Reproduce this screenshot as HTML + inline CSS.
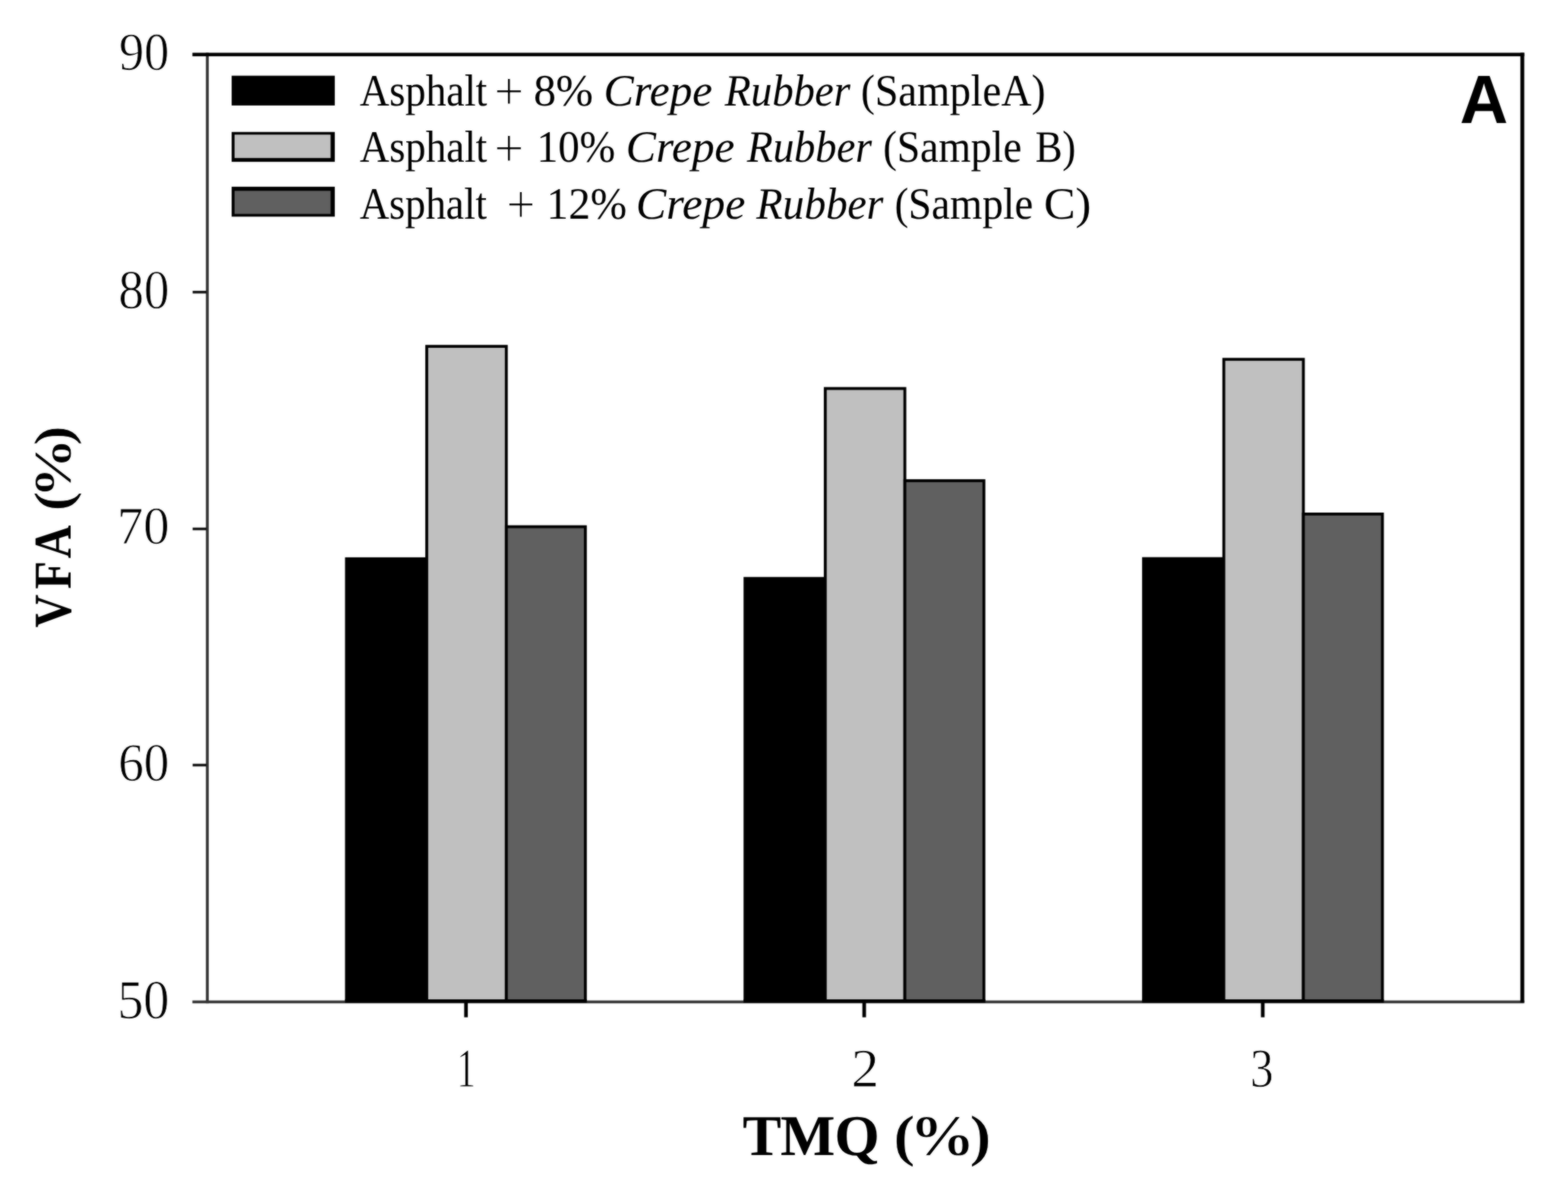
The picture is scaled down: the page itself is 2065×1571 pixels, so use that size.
<!DOCTYPE html>
<html lang="en">
<head>
<meta charset="utf-8">
<title>VFA (%) vs TMQ (%)</title>
<style>
html,body{margin:0;padding:0;background:#fff;}
body{width:2065px;height:1571px;overflow:hidden;}
svg{display:block;}
text{text-rendering:geometricPrecision;}
</style>
</head>
<body>
<svg width="2065" height="1571" viewBox="0 0 2065 1571" role="img" aria-label="Bar chart of VFA (%) against TMQ (%) for three crepe rubber samples">
<defs><filter id="soft" x="0" y="0" width="2065" height="1571" filterUnits="userSpaceOnUse" color-interpolation-filters="sRGB"><feGaussianBlur in="SourceGraphic" stdDeviation="0.9" result="b"/><feComposite in="b" in2="SourceGraphic" operator="arithmetic" k1="0" k2="0.55" k3="0.45" k4="0"/></filter></defs>
<g filter="url(#soft)">
<rect x="0" y="0" width="2065" height="1571" fill="#ffffff"/>
<rect x="456.30" y="735.80" width="105.70" height="582.70" fill="#000000" stroke="#000" stroke-width="3.8"/>
<rect x="562.00" y="456.10" width="104.80" height="862.40" fill="#c0c0c0" stroke="#000" stroke-width="3.8"/>
<rect x="666.80" y="693.60" width="104.10" height="624.90" fill="#606060" stroke="#000" stroke-width="3.8"/>
<rect x="981.15" y="761.70" width="105.70" height="556.80" fill="#000000" stroke="#000" stroke-width="3.8"/>
<rect x="1086.85" y="511.60" width="104.80" height="806.90" fill="#c0c0c0" stroke="#000" stroke-width="3.8"/>
<rect x="1191.65" y="633.00" width="104.10" height="685.50" fill="#606060" stroke="#000" stroke-width="3.8"/>
<rect x="1506.00" y="735.60" width="105.70" height="582.90" fill="#000000" stroke="#000" stroke-width="3.8"/>
<rect x="1611.70" y="473.20" width="104.80" height="845.30" fill="#c0c0c0" stroke="#000" stroke-width="3.8"/>
<rect x="1716.50" y="676.90" width="104.10" height="641.60" fill="#606060" stroke="#000" stroke-width="3.8"/>
<rect x="253.40" y="1317.50" width="1754.00" height="3.70" fill="#343434"/>
<rect x="271.20" y="69.50" width="3.70" height="1251.70" fill="#343434"/>
<rect x="253.40" y="69.50" width="1754.00" height="4.60" fill="#000"/>
<rect x="2002.30" y="69.50" width="5.10" height="1250.70" fill="#000"/>
<rect x="454.40" y="1316.00" width="318.40" height="4.40" fill="#000"/>
<rect x="979.25" y="1316.00" width="318.40" height="4.40" fill="#000"/>
<rect x="1504.10" y="1316.00" width="318.40" height="4.40" fill="#000"/>
<rect x="253.70" y="382.95" width="18.50" height="3.50" fill="#141414"/>
<rect x="253.70" y="694.75" width="18.50" height="3.50" fill="#141414"/>
<rect x="253.70" y="1005.75" width="18.50" height="3.50" fill="#141414"/>
<rect x="611.30" y="1318.50" width="4.80" height="21.10" fill="#000"/>
<rect x="1135.70" y="1318.50" width="4.80" height="21.10" fill="#000"/>
<rect x="1660.60" y="1318.50" width="4.80" height="21.10" fill="#000"/>
<rect x="305.10" y="99.70" width="135.80" height="39.20" fill="#000"/>
<rect x="305.10" y="173.80" width="135.80" height="39.30" fill="#000"/>
<rect x="308.90" y="177.30" width="126.50" height="30.80" fill="#c0c0c0"/>
<rect x="305.10" y="245.90" width="135.80" height="39.40" fill="#000"/>
<rect x="308.90" y="251.30" width="126.50" height="30.40" fill="#606060"/>
<text transform="matrix(0.66129 0 0 0.70519 156.77 92.24)" font-family="'Liberation Serif', serif" font-size="100" fill="#000" stroke="#fff" stroke-width="1.3" vector-effect="non-scaling-stroke" stroke-linejoin="round" xml:space="preserve">90</text>
<text transform="matrix(0.66848 0 0 0.73037 156.08 406.12)" font-family="'Liberation Serif', serif" font-size="100" fill="#000" stroke="#fff" stroke-width="1.3" vector-effect="non-scaling-stroke" stroke-linejoin="round" xml:space="preserve">80</text>
<text transform="matrix(0.68715 0 0 0.70222 154.28 716.25)" font-family="'Liberation Serif', serif" font-size="100" fill="#000" stroke="#fff" stroke-width="1.3" vector-effect="non-scaling-stroke" stroke-linejoin="round" xml:space="preserve">70</text>
<text transform="matrix(0.67213 0 0 0.71111 155.73 1028.44)" font-family="'Liberation Serif', serif" font-size="100" fill="#000" stroke="#fff" stroke-width="1.3" vector-effect="non-scaling-stroke" stroke-linejoin="round" xml:space="preserve">60</text>
<text transform="matrix(0.68333 0 0 0.72741 154.65 1340.52)" font-family="'Liberation Serif', serif" font-size="100" fill="#000" stroke="#fff" stroke-width="1.3" vector-effect="non-scaling-stroke" stroke-linejoin="round" xml:space="preserve">50</text>
<text transform="matrix(0.50000 0 0 0.72672 601.45 1430.55)" font-family="'Liberation Serif', serif" font-size="100" fill="#000" stroke="#fff" stroke-width="1.3" vector-effect="non-scaling-stroke" stroke-linejoin="round" xml:space="preserve">1</text>
<text transform="matrix(0.73500 0 0 0.72121 1121.04 1430.55)" font-family="'Liberation Serif', serif" font-size="100" fill="#000" stroke="#fff" stroke-width="1.3" vector-effect="non-scaling-stroke" stroke-linejoin="round" xml:space="preserve">2</text>
<text transform="matrix(0.61220 0 0 0.72388 1646.49 1430.73)" font-family="'Liberation Serif', serif" font-size="100" fill="#000" stroke="#fff" stroke-width="1.3" vector-effect="non-scaling-stroke" stroke-linejoin="round" xml:space="preserve">3</text>
<g class="legend1"><text transform="matrix(0.53958 0 0 0.59000 473.76 138.60)" font-family="'Liberation Serif', serif" font-size="100" fill="#000" xml:space="preserve">Asphalt </text><text transform="matrix(0.69247 0 0 0.71739 650.84 144.47)" font-family="'Liberation Serif', serif" font-size="100" fill="#000" stroke="#fff" stroke-width="1.4" vector-effect="non-scaling-stroke" stroke-linejoin="round" xml:space="preserve">+ </text><text transform="matrix(0.58968 0 0 0.59000 702.64 138.60)" font-family="'Liberation Serif', serif" font-size="100" fill="#000" xml:space="preserve">8% </text><text transform="matrix(0.59442 0 0 0.59000 795.03 138.60)" font-family="'Liberation Serif', serif" font-size="100" font-style="italic" fill="#000" xml:space="preserve">Crepe </text><text transform="matrix(0.56203 0 0 0.59000 954.48 138.60)" font-family="'Liberation Serif', serif" font-size="100" font-style="italic" fill="#000" xml:space="preserve">Rubber </text><text transform="matrix(0.55442 0 0 0.59000 1133.81 138.60)" font-family="'Liberation Serif', serif" font-size="100" fill="#000" xml:space="preserve">(SampleA)</text></g>
<g class="legend2"><text transform="matrix(0.53958 0 0 0.59000 473.76 213.20)" font-family="'Liberation Serif', serif" font-size="100" fill="#000" xml:space="preserve">Asphalt </text><text transform="matrix(0.69247 0 0 0.71739 650.84 219.07)" font-family="'Liberation Serif', serif" font-size="100" fill="#000" stroke="#fff" stroke-width="1.4" vector-effect="non-scaling-stroke" stroke-linejoin="round" xml:space="preserve">+ </text><text transform="matrix(0.56550 0 0 0.59000 706.71 213.20)" font-family="'Liberation Serif', serif" font-size="100" fill="#000" xml:space="preserve">10% </text><text transform="matrix(0.59442 0 0 0.59000 824.23 213.20)" font-family="'Liberation Serif', serif" font-size="100" font-style="italic" fill="#000" xml:space="preserve">Crepe </text><text transform="matrix(0.55898 0 0 0.59000 983.78 213.20)" font-family="'Liberation Serif', serif" font-size="100" font-style="italic" fill="#000" xml:space="preserve">Rubber </text><text transform="matrix(0.54747 0 0 0.59000 1163.04 213.20)" font-family="'Liberation Serif', serif" font-size="100" fill="#000" xml:space="preserve">(Sample </text><text transform="matrix(0.53405 0 0 0.59000 1363.40 213.20)" font-family="'Liberation Serif', serif" font-size="100" fill="#000" xml:space="preserve">B)</text></g>
<g class="legend3"><text transform="matrix(0.53796 0 0 0.59000 473.76 287.60)" font-family="'Liberation Serif', serif" font-size="100" fill="#000" xml:space="preserve">Asphalt </text><text transform="matrix(0.67097 0 0 0.71739 666.95 293.47)" font-family="'Liberation Serif', serif" font-size="100" fill="#000" stroke="#fff" stroke-width="1.4" vector-effect="non-scaling-stroke" stroke-linejoin="round" xml:space="preserve">+ </text><text transform="matrix(0.57661 0 0 0.59000 719.81 287.60)" font-family="'Liberation Serif', serif" font-size="100" fill="#000" xml:space="preserve">12% </text><text transform="matrix(0.59828 0 0 0.59000 837.51 287.60)" font-family="'Liberation Serif', serif" font-size="100" font-style="italic" fill="#000" xml:space="preserve">Crepe </text><text transform="matrix(0.56847 0 0 0.59000 996.08 287.60)" font-family="'Liberation Serif', serif" font-size="100" font-style="italic" fill="#000" xml:space="preserve">Rubber </text><text transform="matrix(0.54747 0 0 0.59000 1178.14 287.60)" font-family="'Liberation Serif', serif" font-size="100" fill="#000" xml:space="preserve">(Sample </text><text transform="matrix(0.62295 0 0 0.59000 1374.81 287.60)" font-family="'Liberation Serif', serif" font-size="100" fill="#000" xml:space="preserve">C)</text></g>
<text transform="matrix(0.88060 0 0 0.90000 1922.40 161.90)" font-family="'Liberation Sans', sans-serif" font-size="100" font-weight="bold" fill="#000" xml:space="preserve">A</text>
<g class="xtitle"><text transform="matrix(0.76396 0 0 0.76000 981.60 1521.30)" x="-4.7 60.5 153.6" y="0" font-family="'Liberation Serif', serif" font-size="100" font-weight="bold" fill="#000" xml:space="preserve">TMQ </text><text transform="matrix(0.86388 0 0 0.76000 1179.90 1521.30)" x="-4.0 20.6 112.0" y="0" font-family="'Liberation Serif', serif" font-size="100" font-weight="bold" fill="#000" stroke="#fff" stroke-width="1.2" vector-effect="non-scaling-stroke" stroke-linejoin="round" xml:space="preserve">(%)</text></g>
<g class="ytitle"><text transform="matrix(0 -0.60563 0.70000 0 93.00 825.30)" x="-2.1 81.8 148.6" y="0" font-family="'Liberation Serif', serif" font-size="100" font-weight="bold" fill="#000" xml:space="preserve">VFA </text><text transform="matrix(0 -0.78783 0.70000 0 93.00 669.50)" x="-4.7 17.6 105.1" y="0" font-family="'Liberation Serif', serif" font-size="100" font-weight="bold" fill="#000" stroke="#fff" stroke-width="1.2" vector-effect="non-scaling-stroke" stroke-linejoin="round" xml:space="preserve">(%)</text></g>
</g>
</svg>
</body>
</html>
